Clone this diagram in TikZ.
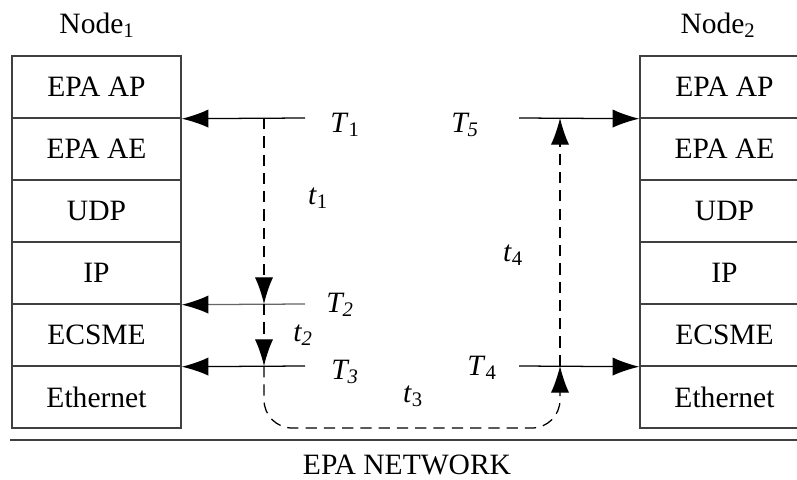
\documentclass[tikz,border=0pt]{standalone}
\usepackage{fontspec}
\setmainfont{Liberation Serif}
\usetikzlibrary{arrows.meta}

\begin{document}
\begin{tikzpicture}[x=0.025cm, y=-0.025cm,
    every node/.style={font=\fontsize{21}{24}\selectfont},
    layer/.style={draw=black!75, line width=1pt, minimum width=4.225cm,
      minimum height=1.55cm, inner sep=0pt},
    stamp/.style={-{Latex[length=19pt,width=13pt,color=black]}, line width=0.9pt},
    delay/.style={stamp, dash pattern=on 8pt off 5pt}]
        \useasboundingbox (0,0) rectangle (797,480);
        % protocol stacks
        \foreach \name/\txt [count=\i] in {ap/EPA AP, ae/EPA AE, udp/UDP,
            ip/IP, ecsme/ECSME, eth/Ethernet} {
          \node[layer] (l\name) at (96.5,25+62*\i) {\txt};
          \node[layer] (r\name) at (724.5,25+62*\i) {\txt};
        }
        \node (node1) at (97,25) {Node\textsubscript{1}};
        \node (node2) at (718,25) {Node\textsubscript{2}};
        % network
        \draw[line width=1.2pt, black!75] (10,440) -- (797,440);
        \node (net) at (407,465) {EPA NETWORK};
        % time stamps
        \coordinate (s1) at (305,118);
        \coordinate (s2) at (305,304);
        \coordinate (s3) at (305,366);
        \coordinate (s4) at (519,366);
        \coordinate (s5) at (519,118);
        \draw[stamp] (s1) -- (lap.south east);
        \draw[stamp, black!60] (s2) -- (lip.south east);
        \draw[stamp] (s3) -- (lecsme.south east);
        \draw[stamp] (s4) -- (recsme.south west);
        \draw[stamp] (s5) -- (rap.south west);
        \node (T1) at (345,125) {\textit{T}\textsubscript{1}};
        \node (T2) at (340,305) {\textit{T\textsubscript{2}}};
        \node (T3) at (345,372) {\textit{T\textsubscript{3}}};
        \node (T4) at (482,368) {\textit{T}\textsubscript{4}};
        \node (T5) at (465,125) {\textit{T\textsubscript{5}}};
        % delays
        \coordinate (a1) at (264,118);
        \coordinate (a2) at (264,304);
        \coordinate (a3) at (264,366);
        \coordinate (base) at (412,428);
        \coordinate (b2) at (560,366);
        \coordinate (b1) at (560,118);
        \draw[delay] (a1) -- (a2);
        \draw[delay] (a2) -- (a3);
        \draw[delay, rounded corners=20] (a3) |- (base) -| (b2);
        \draw[delay] (b2) -- (b1);
        \node (t1) at (318,198) {\textit{t}\textsubscript{1}};
        \node (t2) at (303,335) {\textit{t\textsubscript{2}}};
        \node (t3) at (413,396) {\textit{t}\textsubscript{3}};
        \node (t4) at (513,255) {\textit{t}\textsubscript{4}};
      \end{tikzpicture}
\end{document}
